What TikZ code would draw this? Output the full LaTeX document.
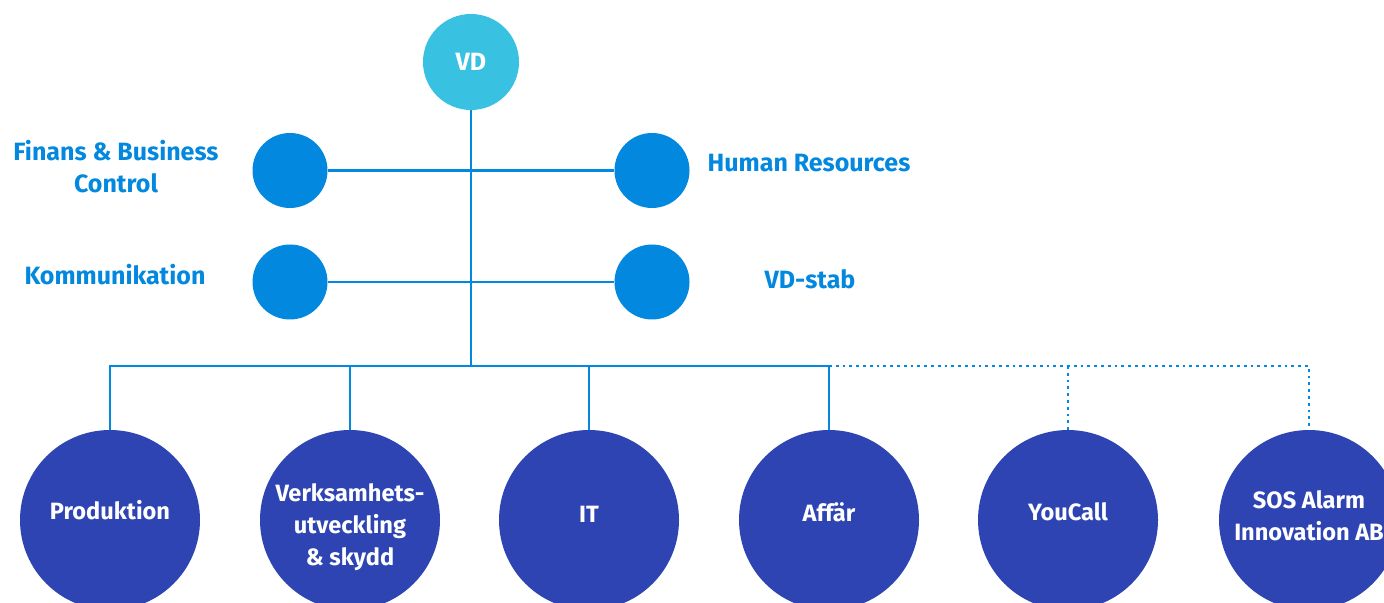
\documentclass[tikz,border=0pt]{standalone}
\usepackage{fontspec}
\setmainfont{Fira Sans}
\definecolor{vdc}{HTML}{38C1E1}
\definecolor{midc}{HTML}{0288DE}
\definecolor{lowc}{HTML}{2E44B3}
\begin{document}
\begin{tikzpicture}[x=0.5pt,y=-0.5pt,
  topc/.style={circle,fill=vdc,minimum size=48pt,inner sep=0pt,text=white,font=\bfseries\fontsize{12.5}{14}\selectfont},
  midcirc/.style={circle,fill=midc,minimum size=37.5pt,inner sep=0pt},
  lowcirc/.style={circle,fill=lowc,minimum size=90pt,inner sep=0pt},
  lowtxt/.style={text=white,align=center,font=\bfseries\fontsize{11.8}{16}\selectfont},
  lbl/.style={text=midc,align=center,font=\bfseries\fontsize{12.5}{16}\selectfont},
  conn/.style={midc,line width=1.4pt},
  dconn/.style={midc,line width=1.4pt,dotted}]
\useasboundingbox (0,0) rectangle (1384,603);
\node[topc] (vd) at (471,62) {VD};
\node[midcirc] (fin) at (290,170.5) {};
\node[midcirc] (hr) at (652,170.5) {};
\node[midcirc] (kom) at (290,282) {};
\node[midcirc] (stab) at (652,282) {};
\node[lbl] (finl) at (116,167) {Finans \& Business\\Control};
\node[lbl] (hrl) at (809,163) {Human Resources};
\node[lbl] (koml) at (115,275) {Kommunikation};
\node[lbl] (stabl) at (810,279) {VD-stab};
\node[lowcirc] (p) at (110,520) {};
\node[lowcirc] (v) at (350,520) {};
\node[lowcirc] (it) at (589,520) {};
\node[lowcirc] (a) at (829,520) {};
\node[lowcirc] (y) at (1068,520) {};
\node[lowcirc] (s) at (1309,520) {};
\node[lowtxt] (pt) at (110,510) {Produktion};
\node[lowtxt] (vt) at (350,527) {Verksamhets-\\utveckling\\\& skydd};
\node[lowtxt] (itt) at (589,514) {IT};
\node[lowtxt] (at) at (829,512) {Affär};
\node[lowtxt] (yt) at (1068,512) {YouCall};
\node[lowtxt] (st) at (1309,516) {SOS Alarm\\Innovation AB};
\coordinate (j) at (471,366);
\coordinate (jp) at (110,366);
\coordinate (ja) at (829,366);
\coordinate (js) at (1309,366);
\coordinate (jy) at (1068,366);
\draw[conn] (vd.south) -- (j);
\draw[conn] (fin.east) -- (hr.west);
\draw[conn] (kom.east) -- (stab.west);
\draw[conn] (p.north) -- (jp) -- (ja) -- (a.north);
\draw[conn] (v.north) -- (v.north |- j);
\draw[conn] (it.north) -- (it.north |- j);
\draw[dconn] (ja) -- (js) -- (s.north);
\draw[dconn] (jy) -- (y.north);
\end{tikzpicture}
\end{document}
